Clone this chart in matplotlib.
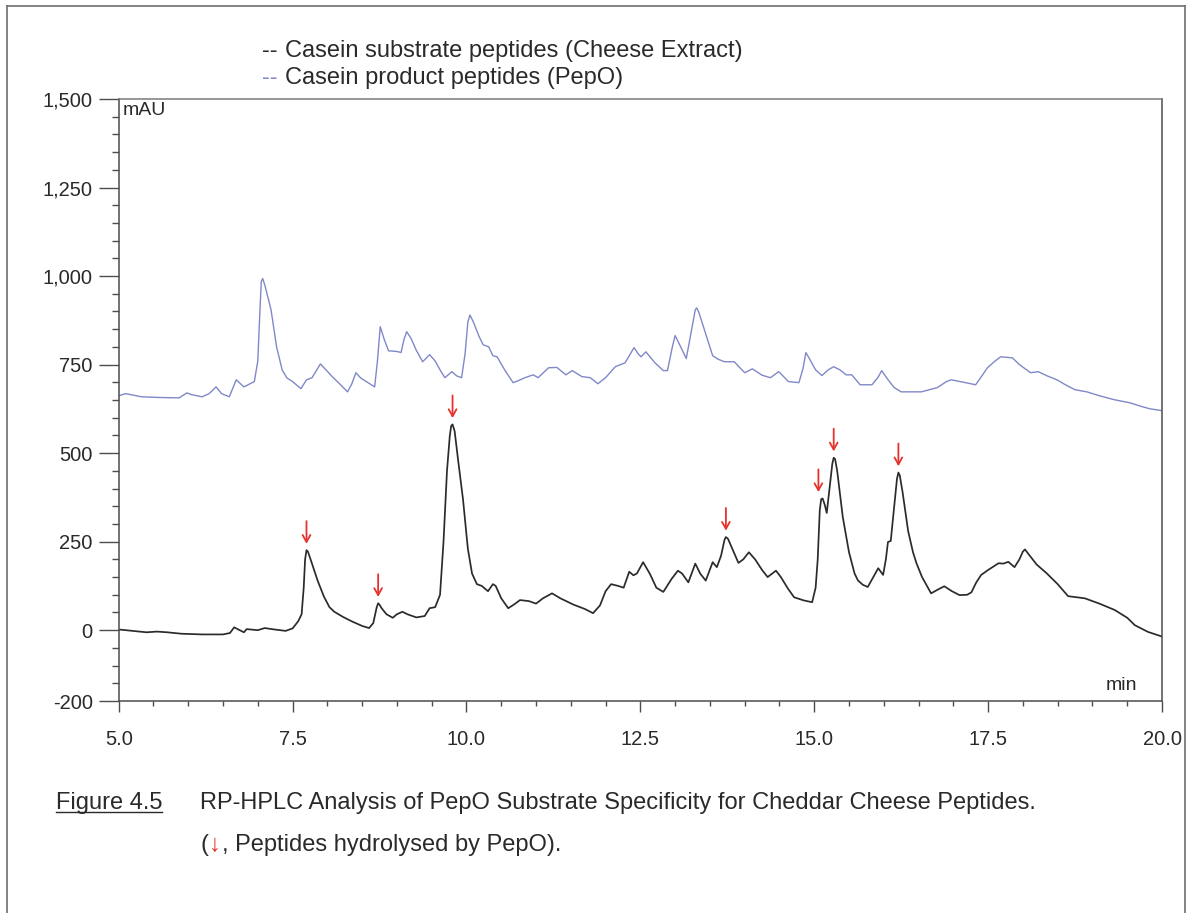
import matplotlib
matplotlib.use("Agg")
import matplotlib.pyplot as plt
from matplotlib.ticker import FixedLocator, MultipleLocator, FuncFormatter
from matplotlib.lines import Line2D

# ---- RP-HPLC traces: retention time (min) vs absorbance (mAU) ----
extract_time = [5.00, 5.20, 5.40, 5.55, 5.70, 5.90, 6.20, 6.50, 6.60, 6.66, 6.72, 6.80,
                6.84, 7.00, 7.10, 7.20, 7.40, 7.50, 7.58, 7.63, 7.66, 7.68, 7.70, 7.72,
                7.75, 7.80, 7.86, 7.90, 7.95, 8.03, 8.10, 8.22, 8.35, 8.50, 8.60, 8.66,
                8.71, 8.73, 8.75, 8.78, 8.85, 8.94, 9.00, 9.08, 9.15, 9.28, 9.40, 9.47,
                9.55, 9.62, 9.67, 9.72, 9.76, 9.78, 9.80, 9.83, 9.88, 9.95, 10.02, 10.08,
                10.15, 10.22, 10.31, 10.38, 10.42, 10.50, 10.60, 10.68, 10.77, 10.90,
                11.00, 11.10, 11.23, 11.35, 11.54, 11.70, 11.82, 11.92, 12.00, 12.08,
                12.18, 12.26, 12.34, 12.40, 12.45, 12.54, 12.64, 12.73, 12.83, 12.95,
                13.04, 13.10, 13.19, 13.29, 13.36, 13.44, 13.54, 13.60, 13.66, 13.71,
                13.73, 13.76, 13.80, 13.91, 13.98, 14.06, 14.15, 14.25, 14.33, 14.45,
                14.52, 14.62, 14.71, 14.85, 14.97, 15.02, 15.05, 15.08, 15.10, 15.12,
                15.15, 15.18, 15.22, 15.26, 15.28, 15.30, 15.33, 15.41, 15.50, 15.58,
                15.63, 15.70, 15.77, 15.85, 15.92, 15.99, 16.03, 16.06, 16.10, 16.15,
                16.19, 16.21, 16.23, 16.27, 16.35, 16.42, 16.47, 16.55, 16.68, 16.78,
                16.87, 16.98, 17.09, 17.20, 17.26, 17.33, 17.40, 17.50, 17.65, 17.72,
                17.79, 17.88, 17.95, 18.00, 18.03, 18.10, 18.20, 18.34, 18.50, 18.65,
                18.89, 19.10, 19.32, 19.50, 19.61, 19.80, 20.00]
extract_mau = [2, -2, -6, -4, -6, -10, -12, -12, -8, 8, 2, -6,
               3, 0, 6, 3, -2, 5, 25, 45, 120, 200, 226, 222,
               205, 175, 140, 120, 95, 65, 52, 38, 25, 12, 6, 20,
               65, 76, 72, 62, 45, 35, 45, 52, 45, 36, 40, 62,
               65, 100, 250, 450, 548, 577, 581, 562, 480, 370, 230, 160,
               130, 125, 110, 130, 125, 90, 62, 72, 85, 82,
               75, 90, 104, 90, 72, 60, 48, 70, 110, 130,
               125, 120, 165, 155, 160, 192, 158, 120, 108, 145,
               168, 160, 135, 188, 160, 140, 192, 178, 210, 255,
               263, 258, 240, 190, 200, 220, 200, 170, 150, 168,
               150, 118, 93, 84, 79, 120, 200, 340, 370, 372,
               355, 331, 400, 470, 487, 483, 450, 320, 220, 160,
               140, 128, 122, 150, 175, 156, 200, 249, 252, 350,
               428, 445, 437, 390, 280, 220, 189, 150, 104, 115,
               124, 110, 99, 100, 107, 135, 156, 170, 189, 188,
               193, 178, 200, 222, 228, 210, 185, 161, 130, 96,
               90, 75, 57, 35, 14, -5, -18]

pepo_time = [5.00, 5.10, 5.20, 5.33, 5.60, 5.87, 5.98, 6.05, 6.20, 6.30, 6.40, 6.48,
             6.59, 6.69, 6.80, 6.95, 7.00, 7.03, 7.05, 7.07, 7.10, 7.19, 7.27, 7.35,
             7.42, 7.50, 7.62, 7.70, 7.78, 7.90, 7.98, 8.07, 8.18, 8.29, 8.35, 8.41,
             8.48, 8.56, 8.68, 8.72, 8.76, 8.82, 8.88, 9.00, 9.06, 9.10, 9.14, 9.20,
             9.28, 9.37, 9.47, 9.55, 9.62, 9.69, 9.79, 9.86, 9.93, 9.98, 10.02, 10.05,
             10.10, 10.18, 10.24, 10.32, 10.38, 10.44, 10.55, 10.67, 10.75, 10.84,
             10.96, 11.03, 11.18, 11.30, 11.43, 11.52, 11.66, 11.78, 11.89, 12.00,
             12.14, 12.28, 12.41, 12.47, 12.51, 12.58, 12.71, 12.83, 12.89, 12.96,
             13.00, 13.08, 13.16, 13.22, 13.29, 13.31, 13.34, 13.45, 13.54, 13.62,
             13.71, 13.85, 14.00, 14.11, 14.25, 14.37, 14.49, 14.63, 14.78, 14.84,
             14.88, 14.95, 15.02, 15.11, 15.20, 15.28, 15.37, 15.46, 15.54, 15.66,
             15.83, 15.92, 15.97, 16.05, 16.15, 16.25, 16.54, 16.77, 16.90, 16.97,
             17.15, 17.32, 17.40, 17.49, 17.60, 17.68, 17.85, 17.95, 18.11, 18.22,
             18.35, 18.49, 18.62, 18.75, 18.92, 19.10, 19.31, 19.54, 19.70, 19.83,
             20.00]
pepo_mau = [662, 668, 664, 659, 657, 656, 670, 665, 659, 668, 687, 668,
            659, 707, 687, 702, 760, 900, 985, 993, 975, 905, 800, 735,
            712, 702, 682, 707, 713, 752, 735, 716, 695, 673, 695, 727,
            712, 702, 687, 760, 857, 820, 789, 787, 784, 820, 843, 825,
            790, 758, 778, 760, 735, 713, 730, 718, 713, 780, 870, 890,
            870, 830, 806, 800, 775, 772, 735, 699, 705, 713,
            721, 713, 741, 742, 721, 733, 716, 713, 696, 713,
            744, 755, 798, 780, 772, 786, 755, 733, 733, 800,
            832, 800, 767, 830, 905, 910, 898, 830, 775, 765,
            758, 758, 727, 738, 720, 713, 730, 702, 699, 740,
            784, 760, 735, 719, 735, 744, 735, 721, 721, 693,
            693, 715, 733, 710, 685, 673, 673, 685, 702, 707,
            700, 693, 715, 741, 760, 772, 769, 750, 727, 730,
            718, 707, 692, 679, 673, 662, 651, 642, 632, 625,
            620]

# Peaks hydrolysed by PepO (retention time, peak height in mAU)
arrow_time = [7.70, 8.73, 9.80, 13.73, 15.06, 15.28, 16.21]
arrow_mau = [226, 76, 581, 263, 372, 487, 445]

y_major = [-200, 0, 250, 500, 750, 1000, 1250, 1500]
x_major = [5.0, 7.5, 10.0, 12.5, 15.0, 17.5, 20.0]

legend_lines = ["Casein substrate peptides (Cheese Extract)",
                "Casein product peptides (PepO)"]
caption_label = "Figure 4.5"
caption_title = "RP-HPLC Analysis of PepO Substrate Specificity for Cheddar Cheese Peptides."
caption_note = ", Peptides hydrolysed by PepO)."

# ---- styling ----
W, H = 1193, 913
FONT = ["Liberation Sans", "DejaVu Sans"]
TXT = "#2a2a2a"
BLACK_TRACE = "#2b2b2b"
BLUE_TRACE = "#8088c8"
RED = "#e5322d"
AXIS = "#4d4d4d"

plt.rcParams["font.family"] = FONT


def px(x):
    return x / W


def py(y):
    return 1 - y / H


fig = plt.figure(figsize=(W / 100, H / 100), dpi=100)
fig.patch.set_facecolor("white")

ax = fig.add_axes([px(118.7), py(701), (1162 - 118.7) / W, (701 - 99) / H])
ax.plot(pepo_time, pepo_mau, color=BLUE_TRACE, lw=1.0, solid_joinstyle="round")
ax.plot(extract_time, extract_mau, color=BLACK_TRACE, lw=1.25, solid_joinstyle="round")

for t, v in zip(arrow_time, arrow_mau):
    ax.annotate("", xy=(t, v + 18), xytext=(t, v + 82),
                arrowprops=dict(arrowstyle="->,head_length=0.5,head_width=0.28",
                                color=RED, lw=1.3, shrinkA=0, shrinkB=0))

ax.set_xlim(5, 20)
ax.set_ylim(-200, 1500)

ax.xaxis.set_major_locator(FixedLocator(x_major))
ax.xaxis.set_minor_locator(MultipleLocator(0.5))
ax.xaxis.set_major_formatter(FuncFormatter(lambda v, p: f"{v:.1f}"))
ax.yaxis.set_major_locator(FixedLocator(y_major))
ax.yaxis.set_minor_locator(MultipleLocator(50))
ax.yaxis.set_major_formatter(FuncFormatter(lambda v, p: f"{int(round(v)):,}"))

ax.tick_params(axis="y", which="major", direction="out", length=14.4, width=1.0,
               color=AXIS, pad=4.3, labelsize=14.5, labelcolor=TXT)
ax.tick_params(axis="y", which="minor", direction="out", length=5.0, width=1.0, color=AXIS)
ax.tick_params(axis="x", which="major", direction="out", length=8, width=1.0,
               color=AXIS, pad=13, labelsize=14.5, labelcolor=TXT)
ax.tick_params(axis="x", which="minor", direction="out", length=3.5, width=1.0, color=AXIS)

for side, sp in ax.spines.items():
    sp.set_color(AXIS if side in ("left", "bottom", "right") else "#7a7a7a")
    sp.set_linewidth(1.1)

ax.text(0.004, 0.995, "mAU", transform=ax.transAxes, ha="left", va="top",
        fontsize=14, color=TXT)
ax.text(0.976, 0.012, "min", transform=ax.transAxes, ha="right", va="bottom",
        fontsize=14, color=TXT)

# ---- legend above the plot ----
fig.text(px(262), py(51), "--", color=BLACK_TRACE, fontsize=17, ha="left", va="center")
fig.text(px(285), py(51), legend_lines[0], color=TXT, fontsize=17, ha="left", va="center")
fig.text(px(262), py(78), "--", color=BLUE_TRACE, fontsize=17, ha="left", va="center")
fig.text(px(285), py(78), legend_lines[1], color=TXT, fontsize=17, ha="left", va="center")

# ---- caption ----
renderer = fig.canvas.get_renderer()
lab = fig.text(px(162), py(803), caption_label, color=TXT, fontsize=17,
               ha="right", va="center")
bb = lab.get_window_extent(renderer=renderer)
fig.add_artist(Line2D([bb.x0 / W, bb.x1 / W], [(bb.y0 + 2) / H, (bb.y0 + 2) / H],
                      transform=fig.transFigure, color=TXT, lw=1.0))
fig.text(px(200), py(803), caption_title, color=TXT, fontsize=17, ha="left", va="center")

x_run = 200
for s, c in [("(", TXT), ("\u2193", RED), (caption_note, TXT)]:
    t = fig.text(px(x_run), py(845), s, color=c, fontsize=17, ha="left", va="center")
    x_run = t.get_window_extent(renderer=renderer).x1 + 1

# ---- page frame ----
frame_kw = dict(transform=fig.transFigure, color="#6e6e6e", lw=1.2)
fig.add_artist(Line2D([px(7), px(7)], [py(6), -0.05], **frame_kw))
fig.add_artist(Line2D([px(1185), px(1185)], [py(6), -0.05], **frame_kw))
fig.add_artist(Line2D([px(7), px(1185)], [py(6), py(6)], **frame_kw))

fig.savefig("out.png", dpi=100, facecolor="white")
